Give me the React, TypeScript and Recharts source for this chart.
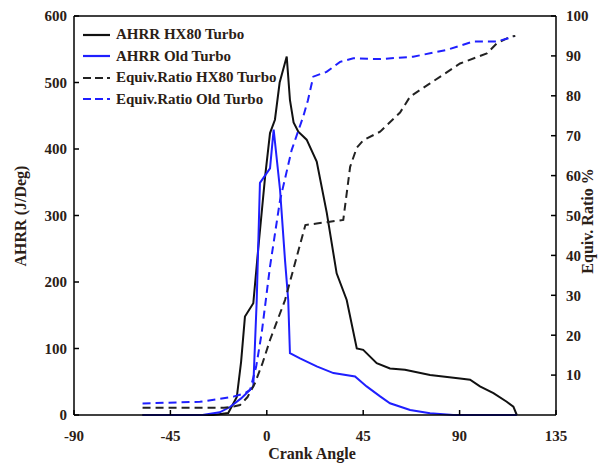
import React from 'react';
import { LineChart, Line, XAxis, YAxis, ReferenceLine, Legend, Label } from 'recharts';

// crank angle ticks (deg)
const xTicks = [-90, -45, 0, 45, 90, 135];
const ahrrTicks = [0, 100, 200, 300, 400, 500, 600];
const ratioTicks = [10, 20, 30, 40, 50, 60, 70, 80, 90, 100];

// AHRR HX80 Turbo
const hx80Angle = [-58, -40, -25, -18, -14, -12, -10.2, -6.3, -4, -0.8, 1.5, 3.8, 6, 9.3, 10.8, 12.5, 14.7, 18.6, 23.3, 28, 32.6, 37.3, 42, 45, 51.3, 57.5, 64.5, 76.2, 90.2, 94.9, 99.5, 105.8, 112, 115.1, 116.7];
const hx80Ahrr = [0, 0, 0, 3, 27, 80, 148, 168, 250, 358, 424, 444, 500, 539, 474, 440, 426, 414, 381, 304, 213, 173, 100, 98, 78, 70, 68, 60, 55, 53, 43, 33, 20, 12.5, 0];

// AHRR Old Turbo
const oldAngle = [-58, -30, -22, -17.2, -12, -7.8, -6.3, -4.7, -3.2, 1.5, 3.2, 6.2, 8.5, 10, 10.8, 15.5, 23.3, 31.1, 41.2, 46.6, 52.9, 57.5, 66.9, 76.2, 87, 116.7];
const oldAhrr = [0, 0, 4, 12, 25, 38, 43, 173, 349, 371, 429, 338, 233, 173, 93, 85, 73, 63, 58, 43, 28, 17.6, 7.5, 2.5, 0, 0];

// Equiv.Ratio HX80 Turbo (%)
const hx80RatioAngle = [-58, -20, -15, -12.5, -9, -5.5, -2, 1.5, 8.5, 14, 18, 23.3, 35.7, 38.9, 42, 45.1, 52.9, 62.2, 66.9, 76.2, 90.2, 102.7, 107.3, 113.5, 116];
const hx80Ratio = [1.8, 1.8, 2.2, 2.5, 4.5, 8, 13, 18.8, 28.8, 39.7, 47.6, 48, 48.9, 62.2, 67, 68.9, 71, 75.8, 79.8, 83.1, 88.1, 90.6, 93.1, 94.8, 95];

// Equiv.Ratio Old Turbo (%)
const oldRatioAngle = [-58, -31.2, -15.6, -10, -7.8, -5, -2.4, 1.5, 6.2, 11.6, 17, 19.2, 21.7, 27.9, 34.2, 40.4, 52.9, 68.3, 84, 96.4, 107.3, 115.1];
const oldRatio = [2.9, 3.3, 4.6, 5.5, 6.3, 12, 20.5, 37.2, 53.9, 66.4, 74.8, 78.9, 84.8, 86, 88.5, 89.4, 89.2, 89.8, 91.5, 93.6, 93.6, 94.8];

const pts = (xs: number[], ys: number[]) => xs.map((x, i) => ({ x, y: ys[i] }));

const series = [
  { name: 'AHRR HX80 Turbo', data: pts(hx80Angle, hx80Ahrr), axis: 'left', color: '#111111', dash: undefined },
  { name: 'AHRR Old Turbo', data: pts(oldAngle, oldAhrr), axis: 'left', color: '#1f1fff', dash: undefined },
  { name: 'Equiv.Ratio HX80 Turbo', data: pts(hx80RatioAngle, hx80Ratio), axis: 'right', color: '#222222', dash: '8 5' },
  { name: 'Equiv.Ratio Old Turbo', data: pts(oldRatioAngle, oldRatio), axis: 'right', color: '#1f1fff', dash: '8 5' },
];

const FONT = '"Liberation Serif", "Times New Roman", serif';
const TEXT = '#2b2016';
const tickStyle = { fontFamily: FONT, fontWeight: 700, fontSize: 15, fill: TEXT };
const titleStyle = { fontFamily: FONT, fontWeight: 700, fontSize: 16, fill: TEXT };

const LegendBox = () => (
  <div style={{ fontFamily: FONT, fontWeight: 700, fontSize: 15, color: TEXT }}>
    {series.map(s => (
      <div key={s.name} style={{ display: 'flex', alignItems: 'center', height: 21.5 }}>
        <svg width={30} height={10} style={{ marginRight: 4 }}>
          <line x1={1} y1={5} x2={28} y2={5} stroke={s.color} strokeWidth={2.2} strokeDasharray={s.dash ? '8 4' : undefined} />
        </svg>
        <span>{s.name}</span>
      </div>
    ))}
  </div>
);

export default function App() {
  return (
    <div style={{ position: 'absolute', left: 0, top: 0, width: 598, height: 465, background: '#fff' }}>
      <LineChart width={598} height={465} margin={{ top: 16, right: 0, bottom: 0, left: 0 }}>
        <XAxis
          dataKey="x"
          type="number"
          domain={[-90, 135]}
          ticks={xTicks}
          allowDataOverflow
          height={50}
          stroke="#000"
          strokeWidth={1.5}
          tickSize={-5}
          tickMargin={20}
          tick={tickStyle}
        >
          <Label
            content={() => (
              <text x={312} y={459} textAnchor="middle" style={titleStyle}>
                Crank Angle
              </text>
            )}
          />
        </XAxis>
        <YAxis
          yAxisId="left"
          domain={[0, 600]}
          ticks={ahrrTicks}
          width={74}
          stroke="#000"
          strokeWidth={1.5}
          tickSize={-5}
          tickMargin={12}
          tick={tickStyle}
        >
          <Label
            content={() => (
              <text x={22} y={216} textAnchor="middle" transform="rotate(-90 22 216)" dominantBaseline="middle" style={titleStyle}>
                AHRR (J/Deg)
              </text>
            )}
          />
        </YAxis>
        <YAxis
          yAxisId="right"
          orientation="right"
          domain={[0, 100]}
          ticks={ratioTicks}
          width={42}
          stroke="#000"
          strokeWidth={1.5}
          tickSize={-5}
          tickMargin={15}
          tick={tickStyle}
        >
          <Label
            content={() => (
              <text x={589} y={221} textAnchor="middle" transform="rotate(-90 589 221)" dominantBaseline="middle" style={titleStyle}>
                Equiv. Ratio %
              </text>
            )}
          />
        </YAxis>
        <ReferenceLine yAxisId="left" y={600} stroke="#000" strokeWidth={1.5} />
        <Legend
          layout="horizontal"
          verticalAlign="middle"
          align="center"
          content={LegendBox}
          wrapperStyle={{ left: 82, top: 24, width: 220 }}
        />
        {series.map(s => (
          <Line
            key={s.name}
            name={s.name}
            data={s.data}
            dataKey="y"
            yAxisId={s.axis}
            type="linear"
            stroke={s.color}
            strokeWidth={2}
            strokeDasharray={s.dash}
            dot={false}
            activeDot={false}
            isAnimationActive={false}
          />
        ))}
      </LineChart>
    </div>
  );
}
